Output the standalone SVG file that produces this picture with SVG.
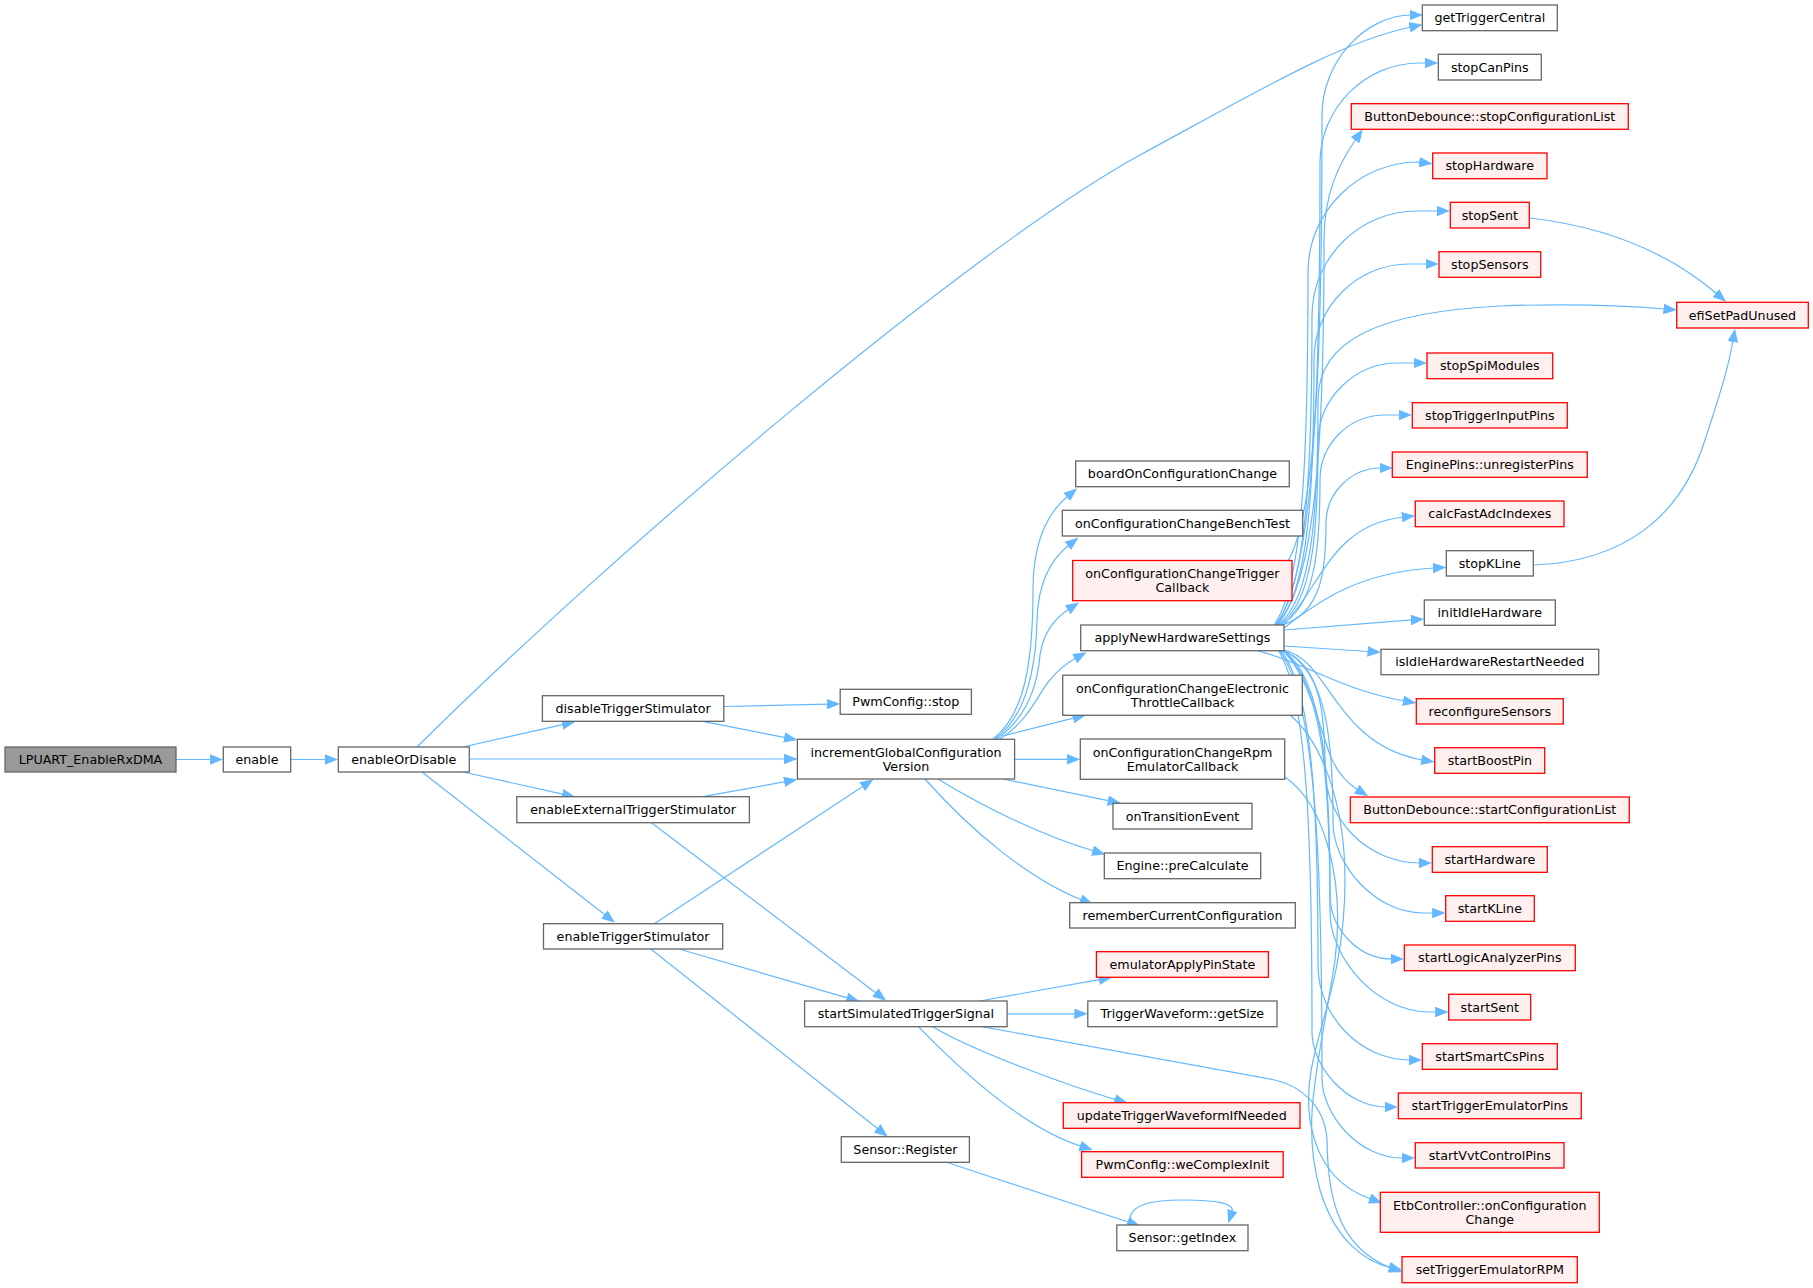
<svg xmlns="http://www.w3.org/2000/svg" width="1813" height="1288" viewBox="0 0 1813 1288">
<style>
.n rect{fill:#ffffff;stroke:#666666;stroke-width:1.3}
.r rect{fill:#fff0f0;stroke:#ff0000;stroke-width:1.3}
.root rect{fill:#999999;stroke:#666666;stroke-width:1.3}
text{font-family:"DejaVu Sans","Liberation Sans",sans-serif;font-size:12.7px;text-anchor:middle;fill:#000000}
#edges path{fill:none;stroke:#63b8ff;stroke-width:1.2;marker-end:url(#ah)}
</style>
<defs>
<marker id="ah" viewBox="0 0 13.5 10.6" refX="1.5" refY="5.3" markerWidth="13.5" markerHeight="10.6" orient="auto" markerUnits="userSpaceOnUse"><path d="M0,0 L13.5,5.3 L0,10.6 z" fill="#63b8ff"/></marker>
</defs>
<rect width="1813" height="1288" fill="#ffffff"/>
<g id="edges">
<path d="M176,759.5 L211.3,759.5"/>
<path d="M290.7,759.5 L326.3,759.5"/>
<path d="M417,747 C610,555 970,248 1140,155 C1260,90 1340,42 1411,27"/>
<path d="M463,747 L563.7,724.3"/>
<path d="M469.3,759 L785.4,759"/>
<path d="M463,772 L563.7,794.4"/>
<path d="M422,772 L605.5,915.3"/>
<path d="M723.8,706.5 L828.2,704.1"/>
<path d="M702.7,721.3 L785.6,737.7"/>
<path d="M702.7,796.7 L785.6,781.6"/>
<path d="M651.5,822.7 L876.6,993.5"/>
<path d="M654.3,923.7 L863.5,785.9"/>
<path d="M679,949 L848.2,998.2"/>
<path d="M650.8,949 L878.4,1129.2"/>
<path d="M979.6,1001 L1100.4,979.4"/>
<path d="M1007.1,1013.8 L1075.8,1013.8"/>
<path d="M932.7,1026.7 C975,1052 1075,1088 1116.2,1099.7"/>
<path d="M918.4,1026.7 C975,1085 1030,1130 1081.4,1146.4"/>
<path d="M982,1026.7 L1275,1080 C1300,1086 1325,1105 1327,1140 C1328,1185 1332,1245 1391,1268"/>
<path d="M946.4,1162.3 L1128.9,1222.3"/>
<path d="M1131,1225 C1125,1205 1150,1200 1184,1200 C1215,1200 1235,1203 1232,1212"/>
<path d="M993,739 C1025,715 1033,660 1033,590 C1033,545 1045,515 1068,496"/>
<path d="M995,739 C1028,715 1036,665 1037,620 C1038,585 1050,560 1069,545"/>
<path d="M997,739 C1030,715 1038,680 1040,655 C1043,635 1052,620 1069,609"/>
<path d="M1000,739 C1030,720 1040,690 1050,680 C1058,670 1065,664 1076,658"/>
<path d="M1003,736 L1074.4,717.9"/>
<path d="M1014.6,759.3 L1068.3,759.3"/>
<path d="M1003,779 L1109.3,800.9"/>
<path d="M938,779 C980,805 1040,835 1094,851"/>
<path d="M925,779 C970,830 1030,880 1082,900"/>
<path d="M1288,561 C1319,508 1322,316 1322,115 C1322,60 1367,15 1411,15"/>
<path d="M1276,625 C1316,570 1320,371 1320,163 C1320,108 1365,63 1420,63 L1426.3,63"/>
<path d="M1277,625 C1319,579 1324,413 1324,240 C1324,195 1338,165 1356,139"/>
<path d="M1274,625 C1305,583 1308,431 1308,272 C1308,212 1358,162 1418,162 L1420.7,162.3"/>
<path d="M1275,625 C1308,588 1312,455 1312,316 C1312,258 1359,211 1417,211 L1438.3,211"/>
<path d="M1276,625 C1310,593 1314,479 1314,359 C1314,307 1357,264 1409,264 L1427,264"/>
<path d="M1278,625 C1314,598 1318,501 1318,400 C1318,340 1380,312 1500,306 C1580,303 1630,306 1665,309"/>
<path d="M1279,625 C1314,603 1318,525 1318,443 C1318,399 1354,363 1398,363 L1415,363"/>
<path d="M1280,625 C1316,608 1320,545 1320,480 C1320,444 1349,415 1385,415 L1400.3,415"/>
<path d="M1282,625 C1322,613 1326,569 1326,523 C1326,493 1351,468 1381,468"/>
<path d="M1283,625 C1320,590 1330,525 1403.3,517"/>
<path d="M1284,628 C1320,600 1360,572 1434.3,568"/>
<path d="M1284,630 L1412.3,619.9"/>
<path d="M1284,646 L1369,651.5"/>
<path d="M1258,651 C1300,660 1340,690 1404.5,701"/>
<path d="M1284,650 C1330,660 1335,745 1422.7,760"/>
<path d="M1282,650 C1305,670 1318,720 1330,755 C1338,775 1350,785 1358,790"/>
<path d="M1282,650 C1321,664 1325,715 1325,768 C1325,820 1368,863 1420.3,863"/>
<path d="M1283,650 C1328,671 1333,745 1333,823 C1333,863 1374,913 1423,913 L1433.7,913"/>
<path d="M1283,650 C1325,679 1330,784 1330,894 C1330,930 1359,959 1392.3,959"/>
<path d="M1282,650 C1325,682 1330,794 1330,912 C1330,957 1375,1012 1430,1012 L1436.7,1012"/>
<path d="M1280,650 C1314,688 1318,823 1318,965 C1318,1017 1361,1060 1410.3,1060"/>
<path d="M1278,650 C1309,696 1312,860 1312,1032 C1312,1066 1346,1107 1386.3,1107"/>
<path d="M1279,650 C1318,701 1322,885 1322,1078 C1322,1114 1358,1158 1402,1158 L1403.3,1158"/>
<path d="M1290,715 C1320,740 1345,800 1345,880 C1345,1000 1300,1050 1310,1120 C1318,1170 1345,1190 1371,1199"/>
<path d="M1285,777 C1325,805 1345,880 1335,960 C1320,1060 1300,1120 1320,1190 C1335,1240 1365,1262 1390.5,1267.5"/>
<path d="M1530,218 C1590,225 1660,245 1717,294"/>
<path d="M1533,565 C1620,562 1680,520 1705,440 C1718,400 1728,370 1733,340.5"/>
</g>
<g id="n_lpuart" class="root"><rect x="5" y="747" width="171" height="25"/><text x="90.5" y="764">LPUART_EnableRxDMA</text></g>
<g id="n_enable" class="n"><rect x="223.3" y="747" width="67.4" height="25"/><text x="257" y="764">enable</text></g>
<g id="n_enableOrDisable" class="n"><rect x="338.3" y="747" width="131" height="25"/><text x="403.8" y="764">enableOrDisable</text></g>
<g id="n_disableTriggerStimulator" class="n"><rect x="542.4" y="695.7" width="181.4" height="25.6"/><text x="633.1" y="712.9">disableTriggerStimulator</text></g>
<g id="n_pwmStop" class="n"><rect x="840.2" y="689.3" width="131.2" height="25"/><text x="905.8" y="706.2">PwmConfig::stop</text></g>
<g id="n_incGlobal" class="n"><rect x="797.4" y="739.3" width="217.2" height="39.7"/><text x="906" y="756.6">incrementGlobalConfiguration</text><text x="906" y="771">Version</text></g>
<g id="n_enableExternal" class="n"><rect x="516.8" y="796.7" width="232.6" height="26"/><text x="633.1" y="814.1">enableExternalTriggerStimulator</text></g>
<g id="n_enableTriggerStimulator" class="n"><rect x="543.5" y="923.7" width="179.2" height="25.3"/><text x="633.1" y="940.8">enableTriggerStimulator</text></g>
<g id="n_startSimulated" class="n"><rect x="804.6" y="1001" width="202.5" height="25.7"/><text x="905.9" y="1018.3">startSimulatedTriggerSignal</text></g>
<g id="n_emulatorApplyPinState" class="r"><rect x="1096.4" y="951.7" width="172" height="25.6"/><text x="1182.4" y="968.9">emulatorApplyPinState</text></g>
<g id="n_getSize" class="n"><rect x="1087.8" y="1001" width="189.2" height="25.7"/><text x="1182.4" y="1018.3">TriggerWaveform::getSize</text></g>
<g id="n_updateTrigger" class="r"><rect x="1063.3" y="1102.7" width="236.7" height="25.6"/><text x="1181.7" y="1119.9">updateTriggerWaveformIfNeeded</text></g>
<g id="n_sensorRegister" class="n"><rect x="841.3" y="1136.7" width="128.1" height="25.6"/><text x="905.4" y="1153.9">Sensor::Register</text></g>
<g id="n_weComplexInit" class="r"><rect x="1081.6" y="1151.7" width="201.6" height="25.6"/><text x="1182.4" y="1168.9">PwmConfig::weComplexInit</text></g>
<g id="n_getIndex" class="n"><rect x="1116.8" y="1225" width="131.2" height="25.7"/><text x="1182.4" y="1242.3">Sensor::getIndex</text></g>
<g id="n_boardOn" class="n"><rect x="1075.7" y="461" width="213.6" height="25.7"/><text x="1182.5" y="478.3">boardOnConfigurationChange</text></g>
<g id="n_benchTest" class="n"><rect x="1062.3" y="510.3" width="240.4" height="25.7"/><text x="1182.5" y="527.6">onConfigurationChangeBenchTest</text></g>
<g id="n_triggerCallback" class="r"><rect x="1072.7" y="560.5" width="219.3" height="40.2"/><text x="1182.4" y="578">onConfigurationChangeTrigger</text><text x="1182.4" y="592.4">Callback</text></g>
<g id="n_applyNew" class="n"><rect x="1080.7" y="625" width="203.3" height="25.7"/><text x="1182.4" y="642.3">applyNewHardwareSettings</text></g>
<g id="n_etc" class="n"><rect x="1062.7" y="675.2" width="239.6" height="40.1"/><text x="1182.5" y="692.7">onConfigurationChangeElectronic</text><text x="1182.5" y="707.1">ThrottleCallback</text></g>
<g id="n_rpm" class="n"><rect x="1080.3" y="739" width="204.4" height="40.3"/><text x="1182.5" y="756.6">onConfigurationChangeRpm</text><text x="1182.5" y="771">EmulatorCallback</text></g>
<g id="n_onTransition" class="n"><rect x="1113" y="803.3" width="139" height="25.7"/><text x="1182.5" y="820.6">onTransitionEvent</text></g>
<g id="n_preCalculate" class="n"><rect x="1104.3" y="853" width="156.4" height="25.7"/><text x="1182.5" y="870.3">Engine::preCalculate</text></g>
<g id="n_remember" class="n"><rect x="1069.7" y="902.7" width="225.6" height="25.3"/><text x="1182.5" y="919.8">rememberCurrentConfiguration</text></g>
<g id="n_getTriggerCentral" class="n"><rect x="1422.3" y="5" width="135" height="25.7"/><text x="1489.8" y="22.3">getTriggerCentral</text></g>
<g id="n_stopCanPins" class="n"><rect x="1438.3" y="54.3" width="103" height="25.7"/><text x="1489.8" y="71.6">stopCanPins</text></g>
<g id="n_bdStop" class="r"><rect x="1351.3" y="103.7" width="277" height="25.6"/><text x="1489.8" y="120.9">ButtonDebounce::stopConfigurationList</text></g>
<g id="n_stopHardware" class="r"><rect x="1432.7" y="153" width="114.3" height="25.7"/><text x="1489.8" y="170.3">stopHardware</text></g>
<g id="n_stopSent" class="r"><rect x="1450.3" y="202.3" width="79" height="25.7"/><text x="1489.8" y="219.6">stopSent</text></g>
<g id="n_stopSensors" class="r"><rect x="1439" y="251.7" width="101.7" height="25.6"/><text x="1489.8" y="268.9">stopSensors</text></g>
<g id="n_efiSetPadUnused" class="r"><rect x="1676.7" y="302.3" width="131.6" height="25.7"/><text x="1742.5" y="319.6">efiSetPadUnused</text></g>
<g id="n_stopSpiModules" class="r"><rect x="1427" y="353" width="125.7" height="25.7"/><text x="1489.8" y="370.3">stopSpiModules</text></g>
<g id="n_stopTriggerInputPins" class="r"><rect x="1412.3" y="402.7" width="155" height="25.3"/><text x="1489.8" y="419.8">stopTriggerInputPins</text></g>
<g id="n_unregisterPins" class="r"><rect x="1392.3" y="452" width="195" height="25.3"/><text x="1489.8" y="469.1">EnginePins::unregisterPins</text></g>
<g id="n_calcFastAdc" class="r"><rect x="1415.3" y="501" width="148.7" height="25.7"/><text x="1489.8" y="518.3">calcFastAdcIndexes</text></g>
<g id="n_stopKLine" class="n"><rect x="1446.3" y="550.7" width="87" height="25.3"/><text x="1489.8" y="567.8">stopKLine</text></g>
<g id="n_initIdle" class="n"><rect x="1424.3" y="600" width="131" height="25.3"/><text x="1489.8" y="617.1">initIdleHardware</text></g>
<g id="n_isIdle" class="n"><rect x="1381" y="649.3" width="217.7" height="25.4"/><text x="1489.8" y="666.4">isIdleHardwareRestartNeeded</text></g>
<g id="n_reconfigure" class="r"><rect x="1416.3" y="698.7" width="147" height="25.3"/><text x="1489.8" y="715.8">reconfigureSensors</text></g>
<g id="n_startBoostPin" class="r"><rect x="1434.7" y="747.7" width="110" height="25.6"/><text x="1489.8" y="764.9">startBoostPin</text></g>
<g id="n_bdStart" class="r"><rect x="1350.3" y="797" width="279" height="25.7"/><text x="1489.8" y="814.3">ButtonDebounce::startConfigurationList</text></g>
<g id="n_startHardware" class="r"><rect x="1432.3" y="846.7" width="115" height="25.6"/><text x="1489.8" y="863.9">startHardware</text></g>
<g id="n_startKLine" class="r"><rect x="1445.7" y="895.7" width="88.6" height="25.6"/><text x="1489.8" y="912.9">startKLine</text></g>
<g id="n_startLogic" class="r"><rect x="1404.3" y="945" width="171" height="25.7"/><text x="1489.8" y="962.3">startLogicAnalyzerPins</text></g>
<g id="n_startSent" class="r"><rect x="1448.7" y="994.3" width="82" height="25.7"/><text x="1489.8" y="1011.6">startSent</text></g>
<g id="n_startSmartCs" class="r"><rect x="1422.3" y="1043.7" width="135" height="25.6"/><text x="1489.8" y="1060.9">startSmartCsPins</text></g>
<g id="n_startTrigEmu" class="r"><rect x="1398.3" y="1093" width="183" height="25.7"/><text x="1489.8" y="1110.3">startTriggerEmulatorPins</text></g>
<g id="n_startVvt" class="r"><rect x="1415.3" y="1142.7" width="148.7" height="25.3"/><text x="1489.8" y="1159.8">startVvtControlPins</text></g>
<g id="n_etb" class="r"><rect x="1380.3" y="1192.3" width="219" height="40"/><text x="1489.8" y="1209.7">EtbController::onConfiguration</text><text x="1489.8" y="1224.1">Change</text></g>
<g id="n_setRPM" class="r"><rect x="1402" y="1256.7" width="175.3" height="26"/><text x="1489.8" y="1274.1">setTriggerEmulatorRPM</text></g>
</svg>
